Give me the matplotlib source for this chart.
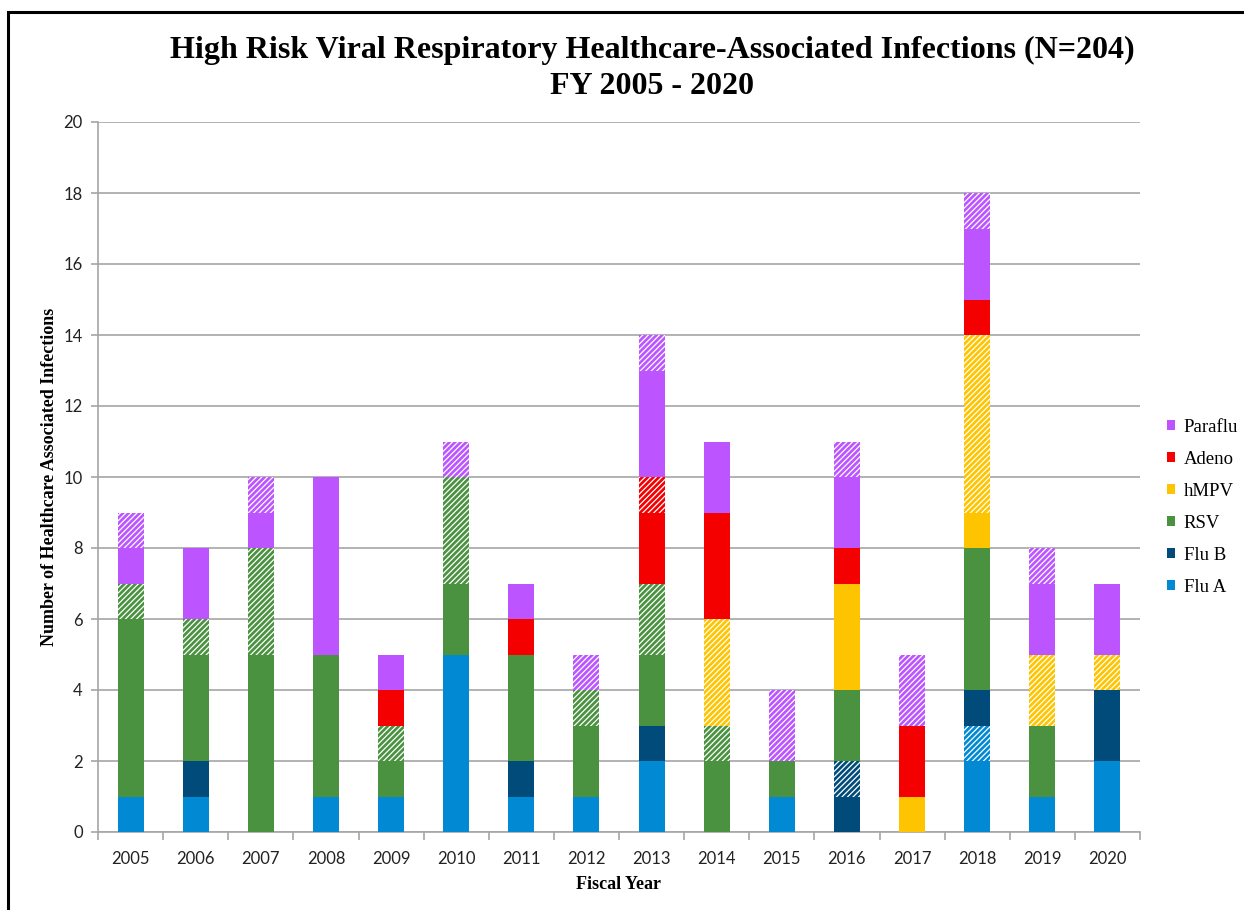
import numpy as np
import matplotlib
matplotlib.use("Agg")
import matplotlib.pyplot as plt
from matplotlib.patches import Patch, Rectangle

years = [str(y) for y in range(2005, 2021)]

# solid = confirmed, hatched = second part of each virus group
flu_a     = [1, 1, 0, 1, 1, 5, 1, 1, 2, 0, 1, 0, 0, 2, 1, 2]
flu_a_h   = [0, 0, 0, 0, 0, 0, 0, 0, 0, 0, 0, 0, 0, 1, 0, 0]
flu_b     = [0, 1, 0, 0, 0, 0, 1, 0, 1, 0, 0, 1, 0, 1, 0, 2]
flu_b_h   = [0, 0, 0, 0, 0, 0, 0, 0, 0, 0, 0, 1, 0, 0, 0, 0]
rsv       = [5, 3, 5, 4, 1, 2, 3, 2, 2, 2, 1, 2, 0, 4, 2, 0]
rsv_h     = [1, 1, 3, 0, 1, 3, 0, 1, 2, 1, 0, 0, 0, 0, 0, 0]
hmpv      = [0, 0, 0, 0, 0, 0, 0, 0, 0, 0, 0, 3, 1, 1, 0, 0]
hmpv_h    = [0, 0, 0, 0, 0, 0, 0, 0, 0, 3, 0, 0, 0, 5, 2, 1]
adeno     = [0, 0, 0, 0, 1, 0, 1, 0, 2, 3, 0, 1, 2, 1, 0, 0]
adeno_h   = [0, 0, 0, 0, 0, 0, 0, 0, 1, 0, 0, 0, 0, 0, 0, 0]
paraflu   = [1, 2, 1, 5, 1, 0, 1, 0, 3, 2, 0, 2, 0, 2, 2, 2]
paraflu_h = [1, 0, 1, 0, 0, 1, 0, 1, 1, 0, 2, 1, 2, 1, 1, 0]

series = [
    ("Flu A", "#0189D3", flu_a, flu_a_h),
    ("Flu B", "#014B7A", flu_b, flu_b_h),
    ("RSV", "#4A9240", rsv, rsv_h),
    ("hMPV", "#FFC400", hmpv, hmpv_h),
    ("Adeno", "#F40000", adeno, adeno_h),
    ("Paraflu", "#BC55FF", paraflu, paraflu_h),
]

plt.rcParams["hatch.linewidth"] = 0.9

fig = plt.figure(figsize=(12.44, 9.10), dpi=100)
ax = fig.add_axes([98/1244, 78/910, 1042/1244, 710/910])

x = np.arange(len(years))
bottom = np.zeros(len(years))
handles = []
for name, col, solid, hatched in series:
    ax.bar(x, solid, 0.4, bottom=bottom, color=col, linewidth=0, zorder=3)
    bottom += np.array(solid)
    ax.bar(x, hatched, 0.4, bottom=bottom, color=col, edgecolor="white",
           hatch="//////", linewidth=0, zorder=3)
    bottom += np.array(hatched)
    handles.append(Patch(facecolor=col, edgecolor="none", label=name))

ax.set_xlim(-0.5, len(years) - 0.5)
ax.set_ylim(0, 20)
ax.set_yticks(range(0, 21, 2))
ax.yaxis.grid(True, color="#a6a6a6", linewidth=1.2, zorder=0)
ax.set_axisbelow(True)
ax.set_xticks(x)
ax.set_xticklabels(years, fontfamily="Lato", fontsize=12, color="#222222")
ax.set_xticks(np.arange(-0.5, len(years)), minor=True)
ax.tick_params(axis="x", which="major", length=0, pad=14)
ax.tick_params(axis="x", which="minor", length=6, width=1.2, color="#a6a6a6")
ax.tick_params(axis="y", length=5, width=1.2, color="#a6a6a6", pad=6,
               labelsize=12, labelcolor="#222222")
for lab in ax.get_yticklabels():
    lab.set_fontfamily("Lato")
for s in ["top", "right"]:
    ax.spines[s].set_visible(False)
for s in ["left", "bottom"]:
    ax.spines[s].set_color("#a6a6a6")
    ax.spines[s].set_linewidth(1.2)

ax.set_xlabel("Fiscal Year", fontfamily="Liberation Serif", fontweight="bold",
              fontsize=13, labelpad=6)
ax.set_ylabel("Number of Healthcare Associated Infections", fontfamily="Liberation Serif",
              fontweight="bold", fontsize=13, labelpad=4)

fig.text(652/1244, 1 - 50/910, "High Risk Viral Respiratory Healthcare-Associated Infections (N=204)",
         ha="center", va="center", fontfamily="Liberation Serif", fontweight="bold", fontsize=23)
fig.text(652/1244, 1 - 87/910, "FY 2005 - 2020", ha="center", va="center",
         fontfamily="Liberation Serif", fontweight="bold", fontsize=23)

leg = fig.legend(handles=handles[::-1], loc="upper left",
                 bbox_to_anchor=(1167/1244, 1 - 419/910), frameon=False,
                 prop={"family": "Liberation Serif", "size": 13.5},
                 handlelength=0.45, handleheight=0.45, handletextpad=0.45,
                 labelspacing=0.8, borderpad=0, borderaxespad=0)

# outer frame (right and bottom edges fall outside the picture)
fig.patches.append(Rectangle((8/1244, -0.1), 1.2, 1 - 12/910 + 0.1, transform=fig.transFigure,
                             fill=False, edgecolor="black", linewidth=2.2))

fig.savefig("out.png", dpi=100)
